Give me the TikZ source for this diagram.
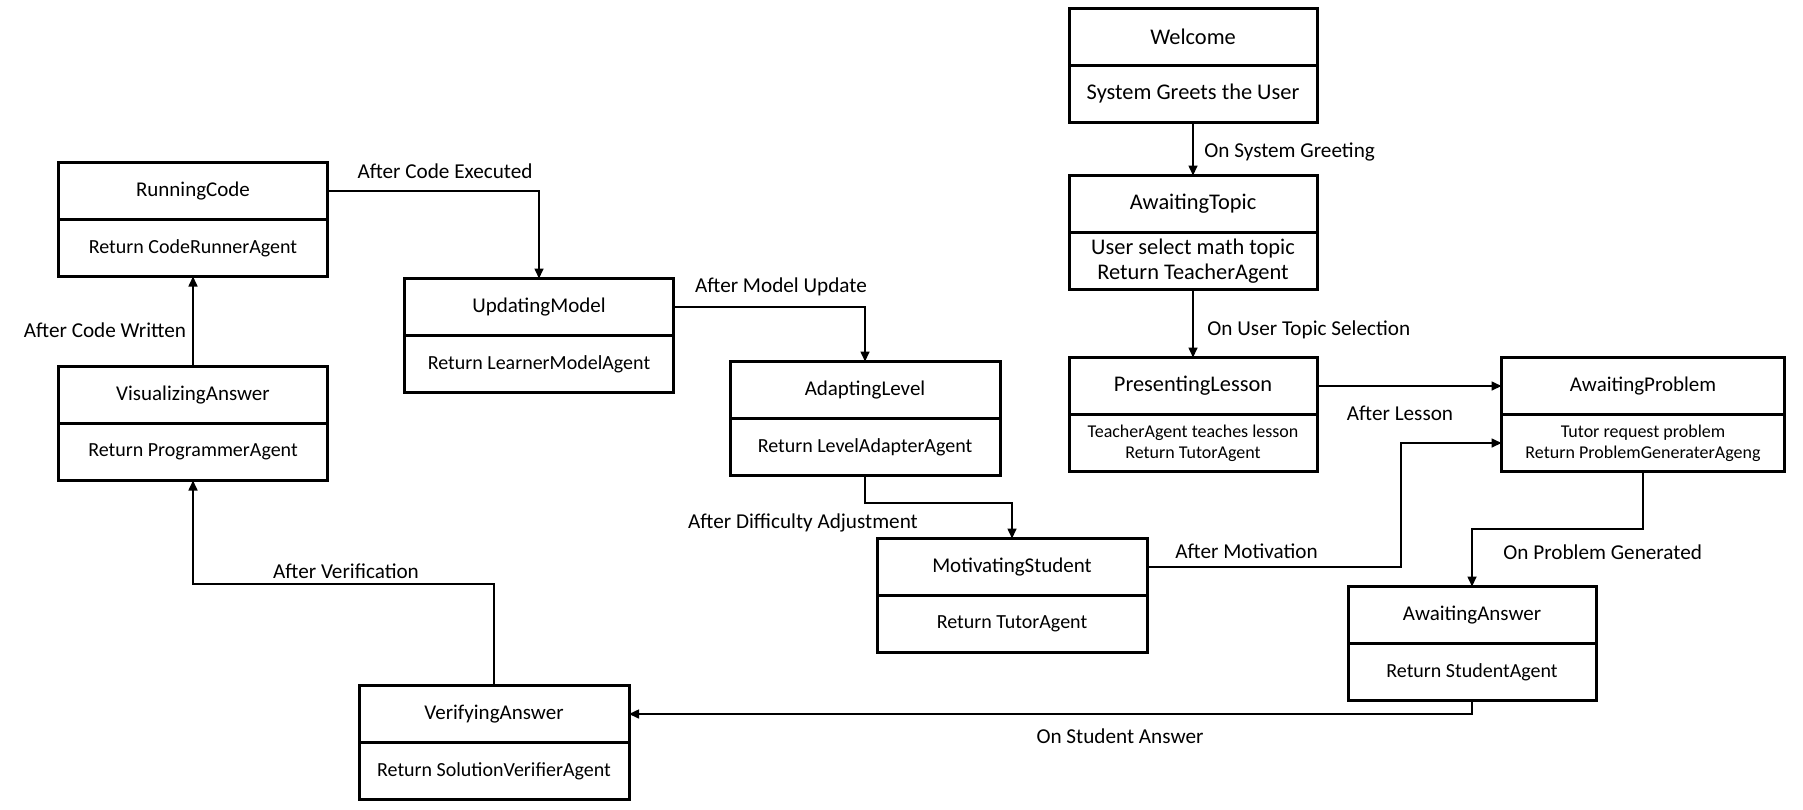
\documentclass[tikz,border=0pt]{standalone}
\usepackage{fontspec}
\setmainfont{Carlito}
\usetikzlibrary{arrows.meta,positioning}

\tikzset{
  state/.style={draw, line width=1.5pt, outer sep=0pt, inner sep=1pt,
    minimum height=28.5pt, align=center, font=\fontsize{10.5}{12.5}\selectfont},
  bodytext/.style={font=\fontsize{10}{12}\selectfont},
  bigtext/.style={font=\fontsize{11.2}{12.6}\selectfont},
  smalltext/.style={font=\fontsize{9}{10.6}\selectfont},
  trans/.style={line width=0.8pt, -{Triangle[length=5pt,width=4.5pt]}},
  lbl/.style={inner sep=0pt, font=\fontsize{10.6}{12}\selectfont},
}

\begin{document}
\begin{tikzpicture}[x=0.5pt,y=-0.5pt]
  \useasboundingbox (0,0) rectangle (1803,809);

  % states: title on top, agent below
  \node[state, bigtext, minimum width=124pt] (WelHead) at (1193,37) {Welcome};
  \node[state, bigtext, minimum width=124pt, below=0pt of WelHead] (WelBody) {System Greets the User};

  \node[state, bigtext, minimum width=124pt] (TopHead) at (1193,204) {AwaitingTopic};
  \node[state, bigtext, minimum width=124pt, below=0pt of TopHead] (TopBody) {User select math topic\\Return TeacherAgent};

  \node[state, bigtext, minimum width=124pt] (LesHead) at (1193,386) {PresentingLesson};
  \node[state, smalltext, minimum width=124pt, below=0pt of LesHead] (LesBody) {TeacherAgent teaches lesson\\Return TutorAgent};

  \node[state, minimum width=141.5pt] (ProbHead) at (1643,386) {AwaitingProblem};
  \node[state, smalltext, minimum width=141.5pt, below=0pt of ProbHead] (ProbBody) {Tutor request problem\\Return ProblemGeneraterAgeng};

  \node[state, minimum width=124pt] (AnsHead) at (1472,615) {AwaitingAnswer};
  \node[state, bodytext, minimum width=124pt, below=0pt of AnsHead] (AnsBody) {Return StudentAgent};

  \node[state, minimum width=135pt] (MotHead) at (1012,567) {MotivatingStudent};
  \node[state, bodytext, minimum width=135pt, below=0pt of MotHead] (MotBody) {Return TutorAgent};

  \node[state, minimum width=135pt] (AdaHead) at (865,390) {AdaptingLevel};
  \node[state, bodytext, minimum width=135pt, below=0pt of AdaHead] (AdaBody) {Return LevelAdapterAgent};

  \node[state, minimum width=134.5pt] (UpdHead) at (539,307) {UpdatingModel};
  \node[state, bodytext, minimum width=134.5pt, below=0pt of UpdHead] (UpdBody) {Return LearnerModelAgent};

  \node[state, minimum width=134.5pt] (RunHead) at (193,191) {RunningCode};
  \node[state, bodytext, minimum width=134.5pt, below=0pt of RunHead] (RunBody) {Return CodeRunnerAgent};

  \node[state, minimum width=134.5pt] (VisHead) at (193,395) {VisualizingAnswer};
  \node[state, bodytext, minimum width=134.5pt, below=0pt of VisHead] (VisBody) {Return ProgrammerAgent};

  \node[state, minimum width=135pt] (VerHead) at (494,714) {VerifyingAnswer};
  \node[state, bodytext, minimum width=135pt, below=0pt of VerHead] (VerBody) {Return SolutionVerifierAgent};

  % bends
  \coordinate (motBend) at (1401,443);
  \coordinate (probBend) at (1643,529);
  \coordinate (verBend) at (494,584);
  \coordinate (adaBend) at (865,503);

  % transitions
  \draw[trans] (WelBody.south) -- (TopHead.north);
  \draw[trans] (TopBody.south) -- (LesHead.north);
  \draw[trans] (LesHead.east) -- (ProbHead.west);
  \draw[trans] (MotHead.east) -| (motBend) -- (ProbBody.west);
  \draw[trans] (ProbBody.south) -- (probBend) -| (AnsHead.north);
  \draw[trans] (AnsBody.south) |- (VerHead.east);
  \draw[trans] (VerHead.north) -- (verBend) -| (VisBody.south);
  \draw[trans] (VisHead.north) -- (RunBody.south);
  \draw[trans] (RunHead.east) -| (UpdHead.north);
  \draw[trans] (UpdHead.east) -| (AdaHead.north);
  \draw[trans] (AdaBody.south) -- (adaBend) -| (MotHead.north);

  % labels
  \node[lbl, anchor=west] (lblGreet) at (1204,152) {On System Greeting};
  \node[lbl, anchor=west] (lblTopic) at (1207,330) {On User Topic Selection};
  \node[lbl] (lblLesson) at (1400,413) {After Lesson};
  \node[lbl, anchor=west] (lblMotiv) at (1175,551) {After Motivation};
  \node[lbl, anchor=west] (lblProb) at (1503,552) {On Problem Generated};
  \node[lbl] (lblAnswer) at (1120,736) {On Student Answer};
  \node[lbl] (lblVerif) at (346,571) {After Verification};
  \node[lbl] (lblWritten) at (105,330) {After Code Written};
  \node[lbl] (lblExec) at (445,171) {After Code Executed};
  \node[lbl] (lblModel) at (781,287) {After Model Update};
  \node[lbl] (lblDiff) at (803,523) {After Difficulty Adjustment};
\end{tikzpicture}
\end{document}
